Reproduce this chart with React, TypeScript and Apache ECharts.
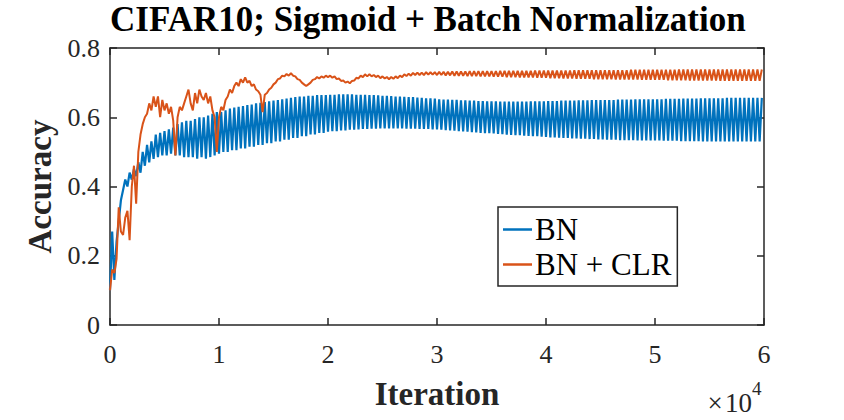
import React, { useEffect, useRef } from "react";
import * as echarts from "echarts";

// Iterations: samples every 200 iterations; "even" samples at 400*i, "odd" samples at 400*i + 200
const SAMPLE_STEP = 200;

// BN (blue) — values at even sample positions (one row per 10^4 iterations)
const blueEven = [
  0.10, 0.13, 0.30, 0.39, 0.40, 0.42, 0.43, 0.44, 0.46, 0.47, 0.48, 0.485, 0.49, 0.49, 0.495, 0.49, 0.49, 0.485, 0.485, 0.485, 0.48, 0.485, 0.48, 0.485, 0.49,
  0.495, 0.50, 0.50, 0.505, 0.505, 0.51, 0.51, 0.515, 0.515, 0.52, 0.52, 0.525, 0.525, 0.53, 0.53, 0.535, 0.535, 0.54, 0.54, 0.545, 0.545, 0.55, 0.55, 0.555, 0.555,
  0.558, 0.56, 0.56, 0.562, 0.562, 0.564, 0.564, 0.565, 0.566, 0.566, 0.567, 0.567, 0.568, 0.568, 0.568, 0.568, 0.568, 0.568, 0.567, 0.567, 0.567, 0.566, 0.566, 0.566, 0.565,
  0.565, 0.564, 0.563, 0.562, 0.561, 0.56, 0.559, 0.558, 0.557, 0.556, 0.555, 0.554, 0.554, 0.553, 0.552, 0.551, 0.55, 0.549, 0.548, 0.548, 0.547, 0.546, 0.545, 0.545, 0.544,
  0.543, 0.542, 0.542, 0.541, 0.54, 0.54, 0.539, 0.539, 0.538, 0.538, 0.537, 0.537, 0.536, 0.536, 0.535, 0.535, 0.535, 0.534, 0.534, 0.534, 0.534, 0.533, 0.533, 0.533, 0.533,
  0.533, 0.533, 0.532, 0.532, 0.532, 0.532, 0.531, 0.531, 0.531, 0.531, 0.531, 0.53, 0.53, 0.53, 0.53, 0.53, 0.53, 0.53, 0.53, 0.53, 0.53, 0.53, 0.53, 0.53, 0.53,
];
// BN (blue) — values at odd sample positions
const blueOdd = [
  0.27, 0.24, 0.36, 0.42, 0.44, 0.45, 0.47, 0.50, 0.52, 0.53, 0.55, 0.555, 0.56, 0.565, 0.57, 0.58, 0.585, 0.59, 0.59, 0.595, 0.60, 0.60, 0.605, 0.61, 0.615,
  0.615, 0.62, 0.625, 0.628, 0.63, 0.632, 0.635, 0.637, 0.64, 0.642, 0.644, 0.646, 0.648, 0.65, 0.652, 0.654, 0.656, 0.658, 0.66, 0.66, 0.662, 0.662, 0.664, 0.664, 0.664,
  0.665, 0.665, 0.666, 0.666, 0.666, 0.666, 0.665, 0.665, 0.665, 0.664, 0.664, 0.663, 0.662, 0.662, 0.661, 0.66, 0.66, 0.659, 0.658, 0.658, 0.657, 0.656, 0.655, 0.655, 0.654,
  0.652, 0.651, 0.651, 0.65, 0.65, 0.649, 0.649, 0.648, 0.648, 0.647, 0.647, 0.646, 0.646, 0.646, 0.645, 0.645, 0.645, 0.645, 0.645, 0.645, 0.645, 0.646, 0.646, 0.646, 0.646,
  0.647, 0.647, 0.647, 0.648, 0.648, 0.648, 0.648, 0.649, 0.649, 0.649, 0.65, 0.65, 0.65, 0.65, 0.65, 0.65, 0.651, 0.651, 0.651, 0.651, 0.652, 0.652, 0.652, 0.652, 0.652,
  0.652, 0.652, 0.653, 0.653, 0.653, 0.653, 0.654, 0.654, 0.654, 0.654, 0.655, 0.655, 0.655, 0.655, 0.655, 0.655, 0.656, 0.656, 0.656, 0.656, 0.656, 0.656, 0.656, 0.656, 0.656,
];

// BN + CLR (orange) — values at even sample positions
const orangeEven = [
  0.10, 0.15, 0.34, 0.26, 0.33, 0.40, 0.35, 0.55, 0.60, 0.64, 0.66, 0.66, 0.65, 0.64, 0.63, 0.49, 0.63, 0.64, 0.68, 0.62, 0.64, 0.66, 0.67, 0.66, 0.60,
  0.60, 0.62, 0.66, 0.67, 0.70, 0.71, 0.715, 0.705, 0.695, 0.675, 0.615, 0.67, 0.685, 0.70, 0.712, 0.718, 0.72, 0.72, 0.71, 0.70, 0.69, 0.70, 0.71, 0.712, 0.714,
  0.716, 0.714, 0.71, 0.705, 0.70, 0.698, 0.706, 0.712, 0.716, 0.718, 0.718, 0.716, 0.713, 0.712, 0.71, 0.711, 0.713, 0.716, 0.719, 0.72, 0.722, 0.722, 0.722, 0.723, 0.723,
  0.722, 0.722, 0.721, 0.721, 0.72, 0.72, 0.72, 0.719, 0.719, 0.719, 0.718, 0.718, 0.718, 0.717, 0.717, 0.717, 0.716, 0.716, 0.716, 0.715, 0.715, 0.715, 0.715, 0.714, 0.714,
  0.714, 0.713, 0.713, 0.713, 0.712, 0.712, 0.712, 0.711, 0.711, 0.711, 0.711, 0.71, 0.71, 0.71, 0.71, 0.71, 0.709, 0.709, 0.709, 0.709, 0.709, 0.709, 0.708, 0.708, 0.708,
  0.708, 0.708, 0.708, 0.707, 0.707, 0.707, 0.707, 0.707, 0.706, 0.706, 0.706, 0.706, 0.706, 0.706, 0.706, 0.705, 0.705, 0.705, 0.705, 0.705, 0.705, 0.705, 0.705, 0.705, 0.705,
];
// BN + CLR (orange) — values at odd sample positions
const orangeOdd = [
  0.16, 0.19, 0.27, 0.31, 0.245, 0.46, 0.50, 0.58, 0.61, 0.62, 0.63, 0.60, 0.62, 0.61, 0.59, 0.60, 0.62, 0.66, 0.64, 0.67, 0.68, 0.65, 0.64, 0.62, 0.50,
  0.63, 0.65, 0.68, 0.69, 0.69, 0.70, 0.70, 0.69, 0.68, 0.665, 0.665, 0.68, 0.695, 0.71, 0.72, 0.725, 0.727, 0.718, 0.708, 0.695, 0.695, 0.708, 0.716, 0.718, 0.72,
  0.72, 0.718, 0.712, 0.706, 0.703, 0.705, 0.714, 0.72, 0.724, 0.724, 0.722, 0.72, 0.718, 0.716, 0.716, 0.718, 0.72, 0.724, 0.726, 0.728, 0.729, 0.729, 0.73, 0.73, 0.73,
  0.731, 0.731, 0.731, 0.732, 0.732, 0.732, 0.732, 0.733, 0.733, 0.733, 0.733, 0.733, 0.733, 0.733, 0.734, 0.734, 0.734, 0.734, 0.734, 0.734, 0.734, 0.734, 0.735, 0.735, 0.735,
  0.735, 0.735, 0.735, 0.735, 0.735, 0.735, 0.736, 0.736, 0.736, 0.736, 0.736, 0.736, 0.736, 0.736, 0.736, 0.736, 0.736, 0.736, 0.736, 0.737, 0.737, 0.737, 0.737, 0.737, 0.737,
  0.737, 0.737, 0.737, 0.737, 0.737, 0.738, 0.738, 0.738, 0.738, 0.738, 0.738, 0.738, 0.738, 0.738, 0.738, 0.738, 0.738, 0.738, 0.738, 0.738, 0.738, 0.738, 0.738, 0.738, 0.738,
];

const seriesNames = ["BN", "BN + CLR"];
const titleText = "CIFAR10; Sigmoid + Batch Normalization";
const xName = "Iteration";
const yName = "Accuracy";
const xMin = 0;
const xMax = 60000;
const xInterval = 10000;
const yMin = 0;
const yMax = 0.8;
const yInterval = 0.2;

function interleave(even: number[], odd: number[]): [number, number][] {
  const out: [number, number][] = [];
  for (let i = 0; i < even.length; i++) {
    out.push([2 * i * SAMPLE_STEP, even[i]]);
    out.push([(2 * i + 1) * SAMPLE_STEP, odd[i]]);
  }
  return out;
}

const SERIF = "Liberation Serif";
const AXIS_COLOR = "#262626";

export default function App() {
  const ref = useRef<HTMLDivElement>(null);
  useEffect(() => {
    if (!ref.current) return;
    const chart = echarts.init(ref.current, undefined, { renderer: "svg" });
    const blue = interleave(blueEven, blueOdd);
    const orange = interleave(orangeEven, orangeOdd);
    const axisCommon = {
      type: "value" as const,
      splitLine: { show: false },
      axisLine: { show: true, onZero: false, lineStyle: { color: AXIS_COLOR, width: 1.5 } },
      axisTick: { show: true, inside: true, length: 7, lineStyle: { color: AXIS_COLOR, width: 1.5 } },
    };
    const labelStyle = {
      fontFamily: SERIF,
      fontWeight: "normal" as const,
      fontSize: 26,
      color: AXIS_COLOR,
    };
    chart.setOption({
      animation: false,
      backgroundColor: "#ffffff",
      textStyle: { fontFamily: SERIF },
      title: {
        text: titleText,
        left: 110,
        top: 2,
        padding: 0,
        textStyle: { fontFamily: SERIF, fontWeight: "bold", fontSize: 35, color: "#000" },
      },
      grid: { left: 110, right: 80, top: 48, bottom: 95, containLabel: false, outerBoundsMode: "none" },
      legend: {
        orient: "vertical",
        left: 498,
        top: 207,
        width: 183,
        padding: [7, 6, 6, 5],
        itemGap: 4,
        itemWidth: 29,
        itemHeight: 2.5,
        icon: "rect",
        borderColor: AXIS_COLOR,
        borderWidth: 1.5,
        borderRadius: 0,
        backgroundColor: "#ffffff",
        textStyle: {
          fontFamily: SERIF,
          fontWeight: "normal",
          fontSize: 31,
          color: "#000",
          padding: [0, 0, 0, -2],
        },
        data: seriesNames,
      },
      xAxis: [
        {
          ...axisCommon,
          position: "bottom",
          min: xMin,
          max: xMax,
          interval: xInterval,
          name: xName,
          nameLocation: "middle",
          nameGap: 52,
          nameTextStyle: { fontFamily: SERIF, fontWeight: "bold", fontSize: 33, color: AXIS_COLOR },
          axisLabel: {
            ...labelStyle,
            margin: 16,
            formatter: (v: number) => String(v / 10000),
          },
        },
        {
          ...axisCommon,
          position: "top",
          min: xMin,
          max: xMax,
          interval: xInterval,
          axisLabel: { show: false },
        },
      ],
      yAxis: [
        {
          ...axisCommon,
          position: "left",
          min: yMin,
          max: yMax,
          interval: yInterval,
          name: yName,
          nameLocation: "middle",
          nameRotate: 90,
          nameGap: 52,
          nameTextStyle: { fontFamily: SERIF, fontWeight: "bold", fontSize: 33, color: AXIS_COLOR },
          axisLabel: {
            ...labelStyle,
            margin: 10,
            formatter: (v: number) => String(Math.round(v * 10) / 10),
          },
        },
        {
          ...axisCommon,
          position: "right",
          min: yMin,
          max: yMax,
          interval: yInterval,
          axisLabel: { show: false },
        },
      ],
      series: [
        {
          name: seriesNames[0],
          type: "line",
          data: blue,
          showSymbol: false,
          symbol: "none",
          color: "#0072BD",
          lineStyle: { color: "#0072BD", width: 2.2 },
          clip: true,
          z: 2,
        },
        {
          name: seriesNames[1],
          type: "line",
          data: orange,
          showSymbol: false,
          symbol: "none",
          color: "#D95319",
          lineStyle: { color: "#D95319", width: 2 },
          clip: true,
          z: 3,
        },
      ],
      graphic: [
        {
          type: "text",
          right: 844 - 752,
          top: 389,
          style: {
            text: "×\u200a10",
            fontFamily: SERIF,
            fontWeight: "normal",
            fontSize: 27,
            fill: AXIS_COLOR,
          },
        },
        {
          type: "text",
          left: 752,
          top: 379,
          style: { text: "4", fontFamily: SERIF, fontWeight: "normal", fontSize: 19, fill: AXIS_COLOR },
        },
      ],
    });
    return () => chart.dispose();
  }, []);
  return (
    <div
      ref={ref}
      style={{ position: "fixed", left: 0, top: 0, width: 844, height: 420, background: "#fff" }}
    />
  );
}
